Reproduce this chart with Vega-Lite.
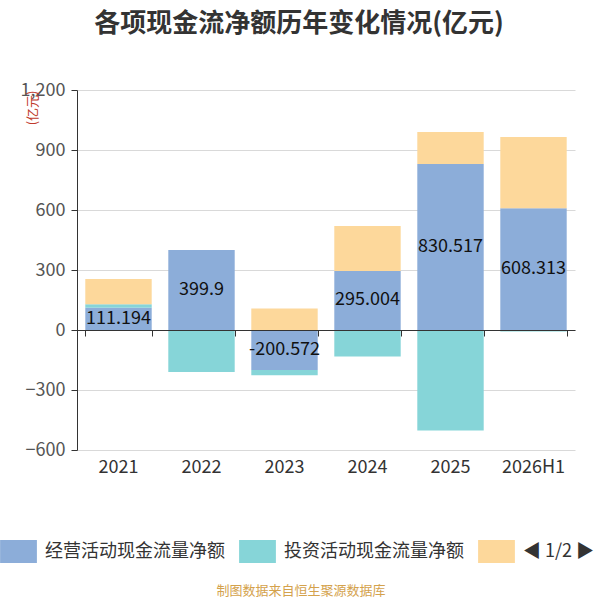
{
  "$schema": "https://vega.github.io/schema/vega-lite/v6.json",
  "width": 498,
  "height": 360,
  "autosize": {"type": "none"},
  "padding": {"left": 77, "top": 90, "right": 25, "bottom": 150},
  "background": "white",
  "title": {
    "text": "各项现金流净额历年变化情况(亿元)",
    "font": "Noto Sans CJK SC",
    "fontSize": 26,
    "fontWeight": "bold",
    "color": "#333333",
    "anchor": "middle",
    "dx": -27,
    "offset": 44
  },
  "config": {
    "font": "Noto Sans CJK SC",
    "view": {"stroke": null}
  },
  "data": {
    "values": [
      {"year": "2021", "type": "经营活动现金流量净额", "value": 111.194},
      {"year": "2021", "type": "投资活动现金流量净额", "value": 17},
      {"year": "2021", "type": "筹资活动现金流量净额", "value": 127},
      {"year": "2022", "type": "经营活动现金流量净额", "value": 399.9},
      {"year": "2022", "type": "投资活动现金流量净额", "value": -210},
      {"year": "2022", "type": "筹资活动现金流量净额", "value": 0},
      {"year": "2023", "type": "经营活动现金流量净额", "value": -200.572},
      {"year": "2023", "type": "投资活动现金流量净额", "value": -26},
      {"year": "2023", "type": "筹资活动现金流量净额", "value": 108},
      {"year": "2024", "type": "经营活动现金流量净额", "value": 295.004},
      {"year": "2024", "type": "投资活动现金流量净额", "value": -132},
      {"year": "2024", "type": "筹资活动现金流量净额", "value": 225},
      {"year": "2025", "type": "经营活动现金流量净额", "value": 830.517},
      {"year": "2025", "type": "投资活动现金流量净额", "value": -502},
      {"year": "2025", "type": "筹资活动现金流量净额", "value": 160},
      {"year": "2026H1", "type": "经营活动现金流量净额", "value": 608.313},
      {"year": "2026H1", "type": "投资活动现金流量净额", "value": -8},
      {"year": "2026H1", "type": "筹资活动现金流量净额", "value": 357}
    ]
  },
  "transform": [
    {"calculate": "indexof(['经营活动现金流量净额','投资活动现金流量净额','筹资活动现金流量净额'], datum.type)", "as": "ord"}
  ],
  "layer": [
    {
      "mark": {"type": "bar"},
      "encoding": {
        "x": {
          "field": "year",
          "type": "nominal",
          "sort": null,
          "scale": {"paddingInner": 0.2, "paddingOuter": 0.1},
          "axis": {
            "title": null,
            "orient": "bottom",
            "labels": false,
            "offset": -120,
            "domainColor": "#333333",
            "domainWidth": 1,
            "tickColor": "#333333",
            "tickSize": 6,
            "tickBand": "extent",
            "zindex": 1
          }
        },
        "y": {
          "field": "value",
          "type": "quantitative",
          "stack": "zero",
          "scale": {"domain": [-600, 1200]},
          "axis": {
            "title": "(亿元)",
            "titleColor": "#c0392b",
            "titleFontSize": 13,
            "titleFontWeight": "normal",
            "titleAngle": -90,
            "titleX": -45,
            "titleY": 0,
            "titleAlign": "right",
            "titleBaseline": "middle",
            "values": [-600, -300, 0, 300, 600, 900, 1200],
            "format": ",d",
            "labelFontSize": 18,
            "labelColor": "#555555",
            "labelPadding": 6,
            "domainColor": "#333333",
            "tickColor": "#333333",
            "tickSize": 6,
            "gridColor": "#d9d9d9",
            "gridWidth": 1
          }
        },
        "color": {
          "field": "type",
          "type": "nominal",
          "scale": {
            "domain": ["经营活动现金流量净额", "投资活动现金流量净额", "筹资活动现金流量净额"],
            "range": ["#8cadd9", "#86d5d8", "#fdd89b"]
          },
          "legend": {
            "orient": "none",
            "legendX": -70,
            "legendY": 450,
            "direction": "horizontal",
            "title": "制图数据来自恒生聚源数据库",
            "titleOrient": "bottom",
            "titleAnchor": "middle",
            "titleColor": "#d4a24c",
            "titleFontSize": 13,
            "titleFontWeight": "normal",
            "titlePadding": 22,
            "symbolType": "M-1.6,-1H1.6V1H-1.6Z",
            "symbolSize": 529,
            "symbolStrokeWidth": 0,
            "symbolOpacity": 1,
            "labelFontSize": 18,
            "labelColor": "#333333",
            "labelOffset": 15,
            "labelLimit": 300,
            "columnPadding": 14,
            "labelExpr": "datum.label == '筹资活动现金流量净额' ? '◀ 1/2 ▶' : datum.label"
          }
        },
        "order": {"field": "ord", "type": "quantitative"}
      }
    },
    {
      "transform": [
        {"filter": "datum.type == '经营活动现金流量净额'"},
        {"calculate": "datum.value / 2", "as": "mid"}
      ],
      "mark": {"type": "text", "fontSize": 18, "color": "#111111", "baseline": "middle"},
      "encoding": {
        "x": {
          "field": "year",
          "type": "nominal",
          "sort": null,
          "axis": {
            "title": null,
            "orient": "bottom",
            "domain": false,
            "ticks": false,
            "labelFontSize": 18,
            "labelColor": "#333333",
            "labelPadding": 8,
            "labelAngle": 0
          }
        },
        "y": {"field": "mid", "type": "quantitative"},
        "text": {"field": "value", "type": "nominal"}
      }
    }
  ],
  "resolve": {"axis": {"x": "independent"}}
}
